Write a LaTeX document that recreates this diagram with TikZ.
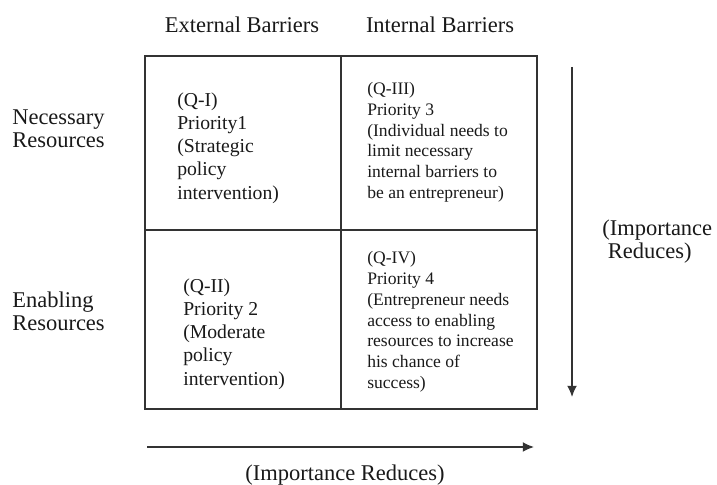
\documentclass[tikz,border=0pt]{standalone}
\usepackage{fontspec}
\setmainfont{Liberation Serif}
\usetikzlibrary{arrows.meta}

\begin{document}
\begin{tikzpicture}[
	lbl/.style={text=black!90,align=left,inner sep=0pt,font=\fontsize{16}{16.6}\selectfont},
	bigcell/.style={text=black!90,align=left,anchor=west,inner sep=0pt,font=\fontsize{14}{16.4}\selectfont},
	smallcell/.style={text=black!90,align=left,anchor=west,inner sep=0pt,font=\fontsize{12.5}{14.8}\selectfont},
	quad/.style={line width=0.9pt,draw=black!80},
	imparrow/.style={-{Latex[length=8pt,width=7pt]},line width=0.9pt,black!80}]
			\useasboundingbox (0,0) rectangle (17.925,12.125);
			
			\draw [quad] (3.625,1.9) rectangle (13.425,10.725);
			\draw [quad] (8.525,1.9) -- (8.525,10.725)
			(3.625,6.375) -- (13.425,6.375);
			
			\node [lbl] (ext) at (6.05,11.5) {External Barriers};
			\node [lbl] (int) at (11.0,11.5) {Internal Barriers};
			\node [lbl,anchor=west] (nec) at (0.3,8.91) {Necessary\\Resources};
			\node [lbl,anchor=west] (enb) at (0.3,4.34) {Enabling\\Resources};
			
			\node [bigcell] (q1) at (4.425,8.42) {(Q-I)\\Priority1\\(Strategic\\policy\\intervention)};
			\node [smallcell] (q3) at (9.175,8.57) {(Q-III)\\Priority 3\\(Individual needs to\\limit necessary\\internal barriers to\\be an entrepreneur)};
			\node [bigcell] (q2) at (4.575,3.77) {(Q-II)\\Priority 2\\(Moderate\\policy\\intervention)};
			\node [smallcell] (q4) at (9.175,4.08) {(Q-IV)\\Priority 4\\(Entrepreneur needs\\access to enabling\\resources to increase\\his chance of\\success)};
			
			\coordinate (vtop) at (14.3,10.45);
			\coordinate (vbot) at (14.3,2.2);
			\draw [imparrow] (vtop) -- (vbot);
			\node [lbl,anchor=west] (imp1) at (15.05,6.09) {(Importance\\\ Reduces)};
			
			\coordinate (hleft) at (3.675,0.95);
			\coordinate (hright) at (13.35,0.95);
			\draw [imparrow] (hleft) -- (hright);
			\node [lbl] (imp2) at (8.625,0.25) {(Importance Reduces)};
		\end{tikzpicture}
\end{document}
